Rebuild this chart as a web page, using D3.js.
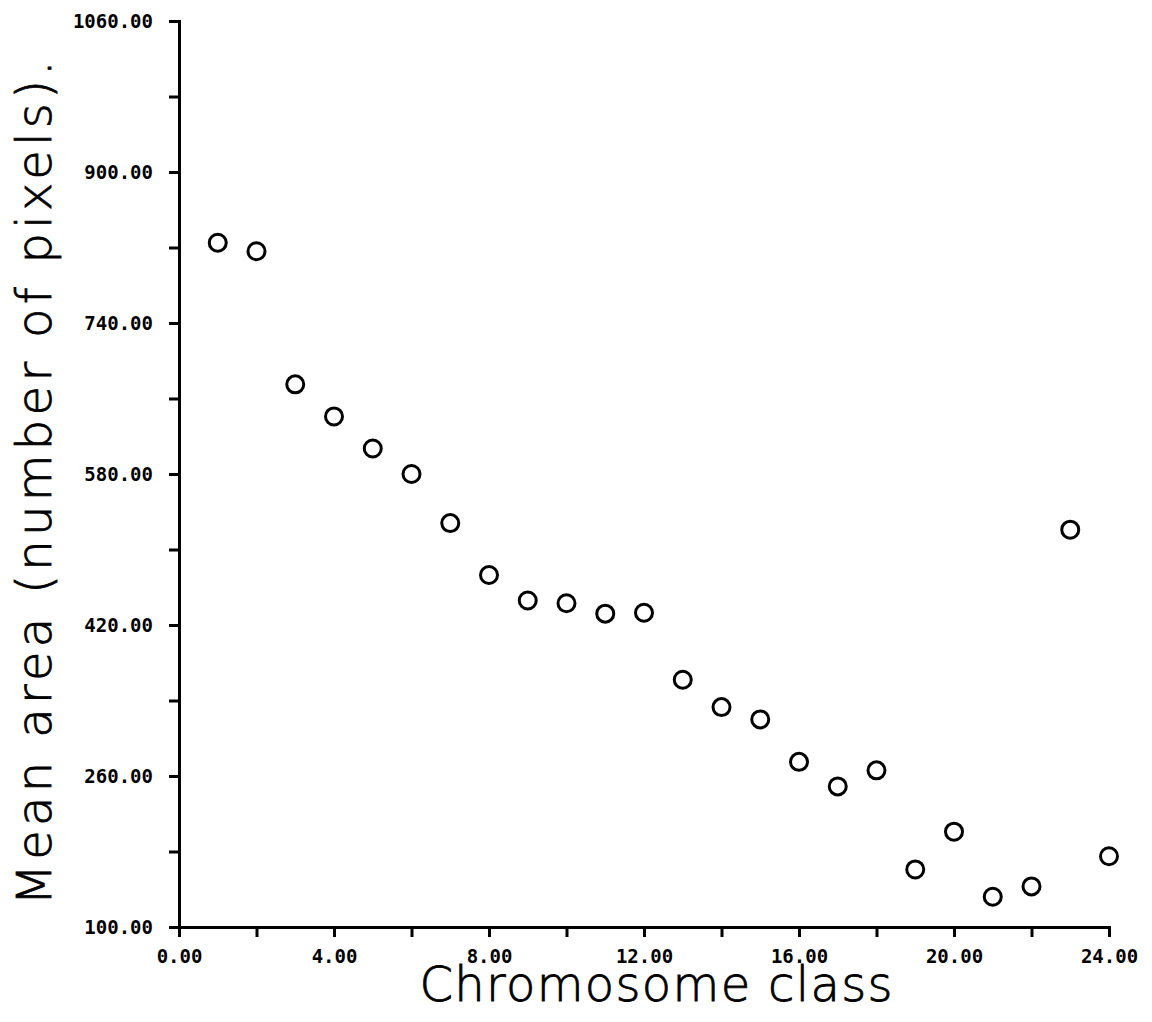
<!DOCTYPE html>
<html lang="en">
<head>
<meta charset="utf-8">
<title>Mean area by chromosome class</title>
<script src="https://cdn.jsdelivr.net/npm/d3@7"></script>
<style>
  body { margin: 0; background: #fff; }
  .axis path, .axis line { stroke: #000; stroke-width: 3px; }
  .axis text { font-family: "DejaVu Sans Mono", monospace; font-weight: bold; font-size: 19px; fill: #000; }
  .title { font-family: "DejaVu Sans", sans-serif; font-weight: 200; font-size: 48px; fill: #000; stroke: #000; stroke-width: 0.8px; }
  .dot { fill: none; stroke: #000; stroke-width: 3px; }
</style>
</head>
<body>
<script>
// chromosome class 1..24 and mean area
var classes = [1, 2, 3, 4, 5, 6, 7, 8, 9, 10, 11, 12, 13, 14, 15, 16, 17, 18, 19, 20, 21, 22, 23, 24];
var meanArea = [825, 816, 675, 641, 607, 580, 528, 473, 446, 443, 432, 433,
                362, 333, 320, 275, 249, 266, 161, 201, 132, 143, 521, 175];
var xMajor = [0, 4, 8, 12, 16, 20, 24];
var xMinor = [2, 6, 10, 14, 18, 22];
var yMajor = [100, 260, 420, 580, 740, 900, 1060];
var yMinor = [180, 340, 500, 660, 820, 980];

var width = 1152, height = 1022;
var plotLeft = 179, plotRight = 1109, plotTop = 21, plotBottom = 927;

var svg = d3.select('body').append('svg')
  .attr('width', width)
  .attr('height', height);

var x = d3.scaleLinear().domain([0, 24]).range([plotLeft, plotRight]);
var y = d3.scaleLinear().domain([100, 1060]).range([plotBottom, plotTop]);
var fmt = d3.format('.2f');

// x axis
svg.append('g').attr('class', 'axis')
  .attr('transform', 'translate(0,' + plotBottom + ')')
  .call(d3.axisBottom(x).tickValues(xMajor).tickFormat(fmt).tickSize(10).tickSizeOuter(0).tickPadding(13));
svg.append('g').attr('class', 'axis')
  .attr('transform', 'translate(0,' + plotBottom + ')')
  .call(d3.axisBottom(x).tickValues(xMinor).tickFormat('').tickSize(10).tickSizeOuter(0));

// y axis
svg.append('g').attr('class', 'axis')
  .attr('transform', 'translate(' + plotLeft + ',0)')
  .call(d3.axisLeft(y).tickValues(yMajor).tickFormat(fmt).tickSize(10).tickSizeOuter(0).tickPadding(16));
svg.append('g').attr('class', 'axis')
  .attr('transform', 'translate(' + plotLeft + ',0)')
  .call(d3.axisLeft(y).tickValues(yMinor).tickFormat('').tickSize(10).tickSizeOuter(0));

svg.selectAll('.axis path').attr('stroke-linecap', 'square');

// points
svg.selectAll('.dot')
  .data(classes)
  .enter()
  .append('circle')
  .attr('class', 'dot')
  .attr('cx', function(d) { return x(d); })
  .attr('cy', function(d, i) { return y(meanArea[i]); })
  .attr('r', 8.5);

// axis titles
svg.append('text')
  .attr('class', 'title')
  .attr('x', 656)
  .attr('y', 1001)
  .attr('text-anchor', 'middle')
  .attr('textLength', 473)
  .attr('lengthAdjust', 'spacing')
  .text('Chromosome class');

svg.append('text')
  .attr('class', 'title')
  .attr('transform', 'translate(51,483) rotate(-90)')
  .attr('text-anchor', 'middle')
  .attr('textLength', 845)
  .attr('lengthAdjust', 'spacing')
  .text('Mean area (number of pixels).');
</script>
</body>
</html>
